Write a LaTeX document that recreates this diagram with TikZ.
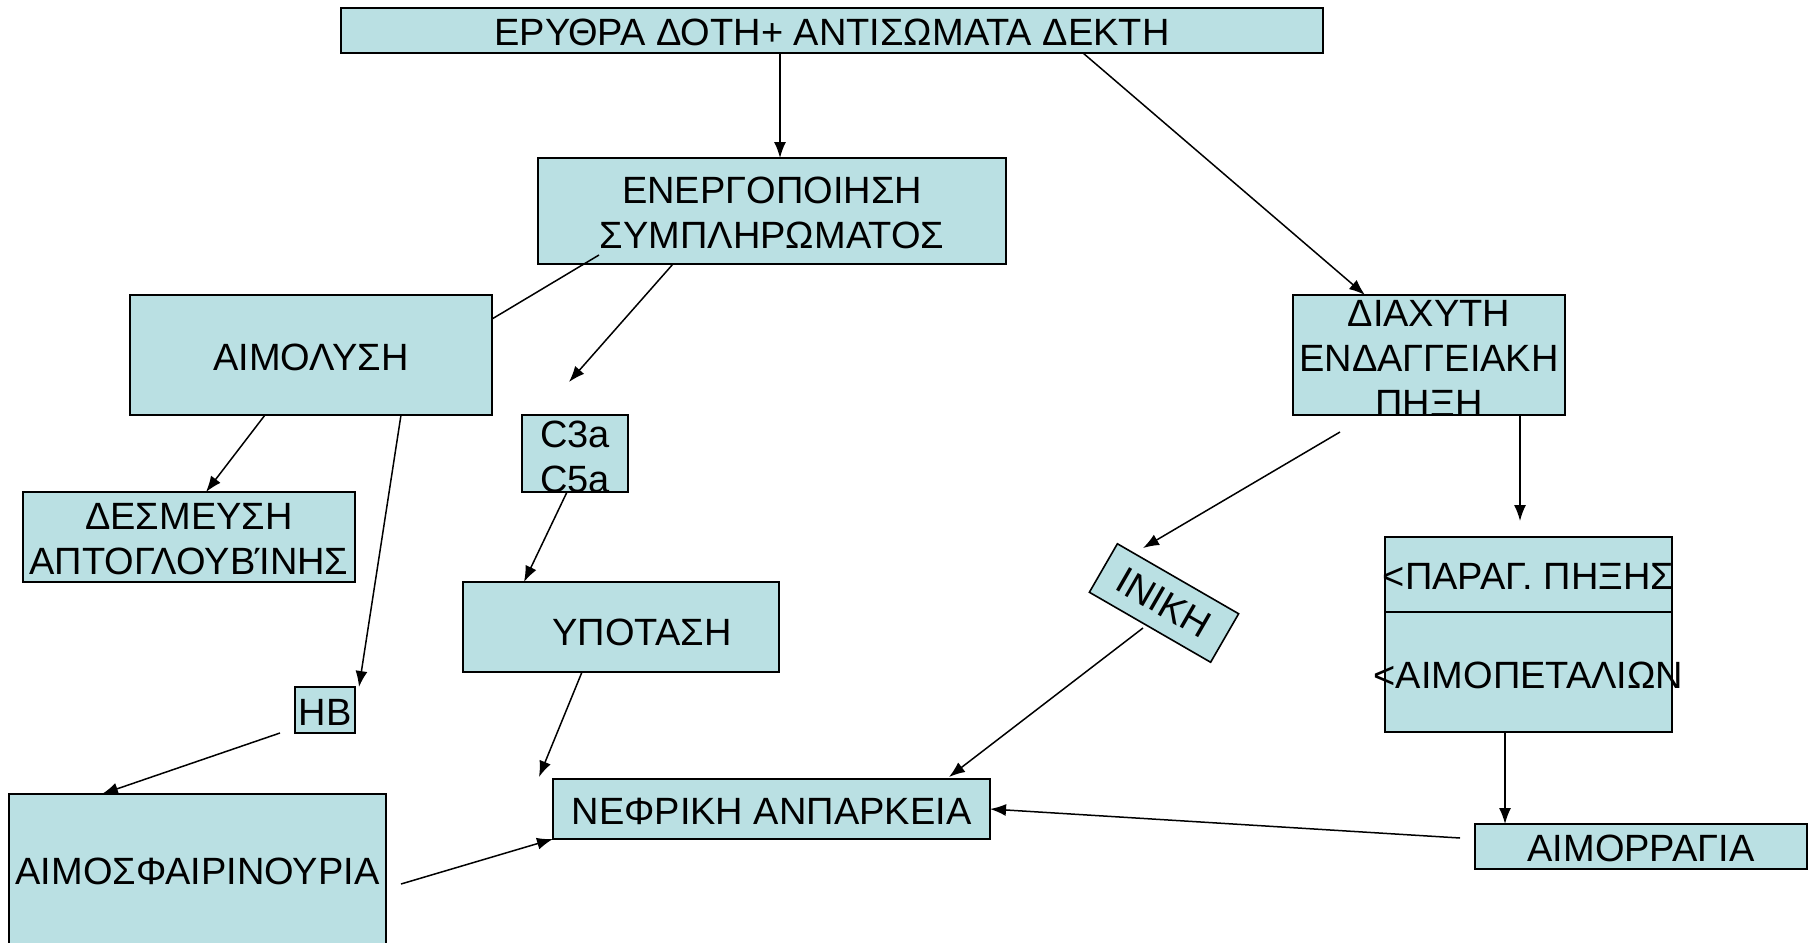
\documentclass[tikz,border=0pt]{standalone}
\usepackage{fontspec}
\setmainfont{Liberation Sans}
\usetikzlibrary{arrows.meta}
\definecolor{boxfill}{RGB}{186,224,227}
\tikzset{
  box/.style={draw=black, line width=1.6pt, fill=boxfill, inner sep=0pt, align=center,
    font=\fontsize{38}{45}\selectfont},
  txt/.style={inner sep=0pt, align=center, font=\fontsize{38}{45}\selectfont},
  arr/.style={line width=1.5pt, -{Latex[length=16pt,width=12pt]}},
  ln/.style={line width=1.5pt}
}
\begin{document}
\begin{tikzpicture}[x=1pt,y=-1pt]
\clip (0,0) rectangle (1814,942);
\fill[white] (0,0) rectangle (1814,942);
% boxes
\node[box, minimum width=982pt, minimum height=45pt] (top) at (832,30.5) {};
\node[txt] (toptxt) at (832,32) {ΕΡΥΘΡΑ ΔΟΤΗ+ ΑΝΤΙΣΩΜΑΤΑ ΔΕΚΤΗ};
\node[box, minimum width=468pt, minimum height=106pt] (enr) at (772,211) {};
\node[txt] (enrtxt) at (772,213) {ΕΝΕΡΓΟΠΟΙΗΣΗ\\ΣΥΜΠΛΗΡΩΜΑΤΟΣ};
\node[box, minimum width=362pt, minimum height=120pt] (aim) at (311,355) {};
\node[txt] (aimtxt) at (311,357) {ΑΙΜΟΛΥΣΗ};
\node[box, minimum width=106pt, minimum height=77pt] (c3a) at (575,453.5) {};
\node[txt] (c3atxt) at (575,457) {C3a\\C5a};
\node[box, minimum width=332pt, minimum height=90pt] (des) at (189,537) {};
\node[txt] (destxt) at (189,539) {ΔΕΣΜΕΥΣΗ\\ΑΠΤΟΓΛΟΥΒΊΝΗΣ};
\node[box, minimum width=316pt, minimum height=90pt] (ypo) at (621,627) {};
\node[txt] (ypotxt) at (642,632) {ΥΠΟΤΑΣΗ};
\node[box, minimum width=60pt, minimum height=46pt] (hb) at (325,710) {};
\node[txt] (hbtxt) at (325,712) {HB};
\node[box, minimum width=377pt, minimum height=160pt] (aimsf) at (197.5,874) {};
\node[txt] (aimsftxt) at (197.5,871) {ΑΙΜΟΣΦΑΙΡΙΝΟΥΡΙΑ};
\node[box, minimum width=437pt, minimum height=60pt] (nef) at (771.5,809) {};
\node[txt] (neftxt) at (771.5,811) {ΝΕΦΡΙΚΗ ΑΝΠΑΡΚΕΙΑ};
\node[box, minimum width=272pt, minimum height=120pt] (dia) at (1429,355) {};
\node[txt] (diatxt) at (1429,358) {ΔΙΑΧΥΤΗ\\ΕΝΔΑΓΓΕΙΑΚΗ\\ΠΗΞΗ};
\node[box, minimum width=140pt, minimum height=56pt, rotate=-30] (inik) at (1164,603) {ΙΝΙΚΗ};
\node[box, minimum width=287pt, minimum height=75pt] (par1) at (1528.5,574.5) {};
\node[txt] (par1txt) at (1528.5,576) {<ΠΑΡΑΓ. ΠΗΞΗΣ};
\node[box, minimum width=287pt, minimum height=120pt] (par2) at (1528.5,672) {};
\node[txt] (par2txt) at (1528.5,675) {<ΑΙΜΟΠΕΤΑΛΙΩΝ};
\node[box, minimum width=332pt, minimum height=45pt] (aimr) at (1641,846.5) {};
\node[txt] (aimrtxt) at (1641,848) {ΑΙΜΟΡΡΑΓΙΑ};
% free ends
\coordinate (a1s) at (780,53);
\coordinate (a1e) at (780,158);
\coordinate (a2s) at (1083,53);
\coordinate (a2e) at (1365,295);
\coordinate (a3s) at (599,255);
\coordinate (a3e) at (492,319);
\coordinate (a4s) at (673,264);
\coordinate (a4e) at (569,382);
\coordinate (a5s) at (265,415);
\coordinate (a5e) at (206,492);
\coordinate (a6s) at (401,415);
\coordinate (a6e) at (359,687);
\coordinate (a7s) at (567,492);
\coordinate (a7e) at (524,582);
\coordinate (a8s) at (280,733);
\coordinate (a8e) at (102,794);
\coordinate (a9s) at (582,672);
\coordinate (a9e) at (539,777);
\coordinate (a10s) at (401,884);
\coordinate (a10e) at (553,839);
\coordinate (a11s) at (1340,432);
\coordinate (a11e) at (1143,548);
\coordinate (a12s) at (1520,415);
\coordinate (a12e) at (1520,521);
\coordinate (a13s) at (1143,628);
\coordinate (a13e) at (949,777);
\coordinate (a14s) at (1505,732);
\coordinate (a14e) at (1505,824);
\coordinate (a15s) at (1460,838);
\coordinate (a15e) at (990,809);
% connectors
\draw[arr] (a1s) -- (a1e);
\draw[arr] (a2s) -- (a2e);
\draw[ln] (a3s) -- (a3e);
\draw[arr] (a4s) -- (a4e);
\draw[arr] (a5s) -- (a5e);
\draw[arr] (a6s) -- (a6e);
\draw[arr] (a7s) -- (a7e);
\draw[arr] (a8s) -- (a8e);
\draw[arr] (a9s) -- (a9e);
\draw[arr] (a10s) -- (a10e);
\draw[arr] (a11s) -- (a11e);
\draw[arr] (a12s) -- (a12e);
\draw[arr] (a13s) -- (a13e);
\draw[arr] (a14s) -- (a14e);
\draw[arr] (a15s) -- (a15e);
\end{tikzpicture}
\end{document}
